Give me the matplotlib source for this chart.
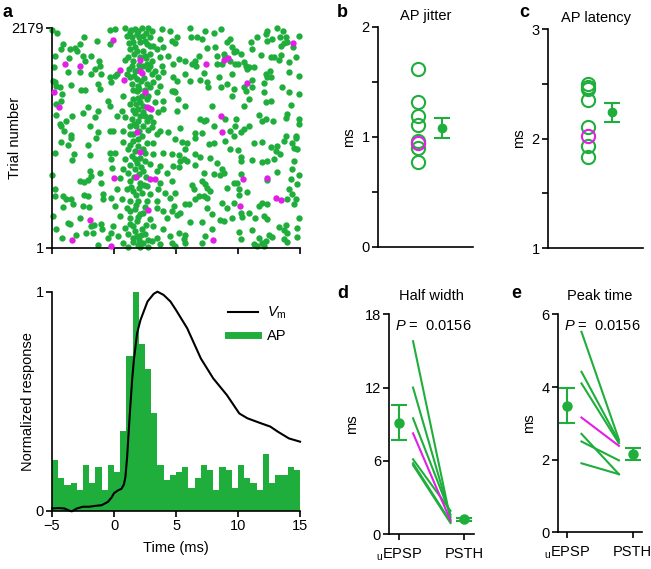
import numpy as np
import matplotlib
matplotlib.use("Agg")
import matplotlib.pyplot as plt
from matplotlib.lines import Line2D

plt.rcParams['font.family'] = ['Liberation Sans', 'DejaVu Sans']
plt.rcParams['mathtext.fontset'] = 'custom'
plt.rcParams['mathtext.rm'] = 'Liberation Sans'
plt.rcParams['mathtext.it'] = 'Liberation Sans:italic'
plt.rcParams['font.size'] = 10.5
plt.rcParams['axes.linewidth'] = 1.2
plt.rcParams['xtick.major.width'] = 1.2
plt.rcParams['ytick.major.width'] = 1.2
plt.rcParams['xtick.major.size'] = 4
plt.rcParams['ytick.major.size'] = 4

GREEN = '#1fae3c'
MAGENTA = '#e21fe6'

# ---- raster (time ms, trial number) ----
raster_green = [
    (-5.0, 2150), (-4.57, 2121), (-4.11, 2015), (-4.25, 1966), (-4.73, 1893), (-4.84, 1784), (-3.58, 1966),
    (-3.17, 1975), (-2.96, 1949), (-2.77, 2015), (-2.42, 2081), (-1.34, 2041), (-0.35, 2154), (-0.35, 2015),
    (-3.63, 1873), (-2.5, 1893), (-2.37, 1850), (-1.83, 1900), (-1.24, 1843), (-1.1, 1800), (-1.56, 1768),
    (-1.88, 1718), (-1.08, 1718), (-3.71, 1735), (-2.72, 1741), (-4.92, 1652), (-4.73, 1636), (-4.65, 1603),
    (-4.38, 1586), (-4.19, 1520), (-4.65, 1421), (-4.25, 1454), (-3.44, 1612), (-2.63, 1560), (-2.31, 1560),
    (-1.29, 1619), (-1.16, 1570), (-0.35, 1685), (-0.21, 1636), (-0.48, 1454), (-0.35, 1405), (-2.1, 1388),
    (-2.5, 1329), (-1.56, 1296), (-1.29, 1355), (-4.65, 1315), (-3.39, 1306), (-3.84, 1256), (-4.38, 1223),
    (-4.25, 1207), (-4.03, 1157), (-3.44, 1117), (-1.96, 1207), (-1.29, 1140), (-0.35, 1157),
    # band, upper half
    (0.08, 2164), (0.89, 2173), (1.29, 2130), (1.7, 2164), (2.23, 2175), (2.77, 2175), (3.04, 2147),
    (3.85, 2164), (4.52, 2147), (1.02, 2097), (1.43, 2081), (1.83, 2114), (2.37, 2097), (2.91, 2081),
    (3.71, 2064), (4.65, 2048), (1.56, 2032), (2.1, 2032), (2.64, 2015), (3.17, 1998), (1.29, 1966),
    (1.83, 1949), (2.37, 1949), (3.44, 1966), (3.98, 1982), (4.38, 1900), (1.16, 1883), (0.89, 1857),
    (1.56, 1850), (2.5, 1900), (2.91, 1916), (3.71, 1883), (2.64, 1817), (3.04, 1850), (1.43, 1800),
    (1.7, 1751), (2.37, 1800), (2.77, 1768), (3.31, 1751), (3.85, 1800), (4.79, 1817), (0.08, 1702),
    (1.02, 1718), (1.29, 1685), (0.22, 1718), (1.83, 1668), (3.04, 1718), (3.58, 1685), (3.98, 1735),
    (4.79, 1685), (1.43, 1619), (1.97, 1603), (2.64, 1619), (3.17, 1636), (3.71, 1603), (1.83, 1553),
    (2.23, 1504), (2.77, 1504), (3.44, 1537), (4.65, 1553), (0.76, 1504), (1.56, 1471), (2.1, 1437),
    (2.64, 1471), (3.31, 1437), (3.98, 1454), (1.97, 1371), (2.37, 1338), (3.58, 1338), (3.98, 1371),
    (0.62, 1355), (0.22, 1306), (0.89, 1289), (1.43, 1272), (1.97, 1256), (2.64, 1256), (3.17, 1240),
    (1.29, 1207), (2.37, 1207), (3.04, 1190), (3.71, 1157), (4.38, 1140), (-0.05, 1157), (0.76, 1157),
    (1.56, 1124), (2.23, 1108), (3.44, 1124),
    (1.9, 2140), (2.5, 2050), (1.7, 1990), (2.1, 1890), (2.0, 1810), (1.6, 1700), (2.4, 1680),
    (2.0, 1570), (1.9, 1480), (2.3, 1400), (1.7, 1330), (2.1, 1300), (1.8, 1200), (2.7, 1160),
    (1.4, 2150), (2.0, 2090), (2.6, 2120), (1.2, 2030), (2.9, 2000), (1.6, 1920), (2.6, 1880),
    (1.9, 1760), (2.9, 1800), (1.2, 1770), (2.2, 1650), (1.5, 1560), (2.5, 1560), (2.9, 1590),
    (1.3, 1420), (1.8, 1420), (2.8, 1380), (1.5, 1360), (2.5, 1300), (1.6, 1220), (2.9, 1290),
    (2.0, 1150), (1.3, 1120),
    # 5 to 10 ms, upper half
    (5.08, 2088), (4.9, 2022), (6.16, 2173), (6.24, 2081), (6.7, 2088), (7.1, 2064), (7.37, 2147),
    (8.04, 2121), (8.66, 2164), (9.38, 2064), (9.12, 2032), (9.52, 1989), (9.65, 1933), (7.5, 1975),
    (8.12, 1989), (5.27, 1867), (5.76, 1850), (6.29, 1817), (6.62, 1800), (6.83, 1893), (6.56, 1850),
    (8.31, 1900), (8.85, 1916), (8.93, 1883), (8.31, 1817), (8.71, 1817), (9.38, 1850), (9.79, 1817),
    (5.76, 1718), (5.08, 1652), (6.16, 1652), (6.97, 1659), (7.29, 1725), (7.5, 1636), (7.58, 1586),
    (8.44, 1692), (8.66, 1593), (9.12, 1619), (9.52, 1718), (9.65, 1570), (4.81, 1553), (4.95, 1537),
    (5.16, 1471), (9.52, 1504), (5.76, 1405), (5.08, 1355), (7.91, 1405), (6.97, 1272), (7.23, 1249),
    (7.45, 1263), (8.04, 1207), (8.98, 1272), (5.35, 1183), (6.56, 1131), (7.1, 1131), (9.38, 1157),
    (9.65, 1108), (9.79, 1207),
    # 10 to 15 ms, upper half
    (13.17, 2173), (13.66, 2147), (12.37, 2147), (12.23, 2114), (11.56, 2081), (11.02, 2032),
    (11.16, 1966), (9.81, 1949), (10.22, 1916), (11.83, 1909), (12.37, 2041), (12.77, 2064),
    (13.39, 2088), (13.85, 2081), (13.98, 2032), (13.71, 2022), (13.44, 1998), (14.46, 1982),
    (14.92, 2097), (12.69, 1890), (12.91, 1883), (13.31, 1857), (13.44, 1909), (14.12, 1833),
    (14.65, 1883), (10.0, 1817), (10.49, 1833), (10.62, 1800), (10.76, 1768), (10.89, 1784),
    (11.29, 1784), (12.23, 1718), (12.58, 1744), (12.37, 1685), (12.64, 1685), (14.12, 1735),
    (14.92, 1702), (11.16, 1659), (10.49, 1586), (10.62, 1553), (11.16, 1586), (12.1, 1626),
    (13.58, 1586), (14.12, 1537), (14.92, 1520), (10.89, 1471), (12.1, 1537), (12.23, 1437),
    (12.69, 1454), (14.25, 1414), (10.49, 1405), (9.81, 1272), (11.7, 1315), (11.97, 1256),
    (12.23, 1272), (12.85, 1256), (13.85, 1282), (13.98, 1322), (14.92, 1272), (14.92, 1223),
    (10.89, 1207), (10.49, 1174), (10.22, 1140), (13.85, 1108), (14.65, 1108),
    # -5 to 0 ms, lower half
    (-4.25, 1046), (-3.49, 1088), (-4.73, 933), (-3.71, 1013), (-3.23, 924), (-3.39, 867), (-2.1, 1013),
    (-1.42, 1088), (-1.96, 914), (-0.35, 940), (-0.21, 874), (-5.0, 716), (-4.78, 584), (-4.73, 511),
    (-4.11, 511), (-3.84, 478), (-3.49, 478), (-3.31, 428), (-4.11, 405), (-4.92, 313), (-2.77, 659),
    (-2.42, 650), (-2.1, 669), (-1.96, 758), (-1.83, 709), (-1.16, 735), (-1.02, 643), (-2.42, 518),
    (-2.1, 511), (-2.5, 412), (-2.04, 405), (-0.89, 528), (-0.89, 478), (-0.21, 495), (-3.71, 240),
    (-3.58, 230), (-2.77, 296), (-1.88, 214), (-1.61, 221), (-1.02, 230), (-0.97, 181), (-4.65, 188),
    (-4.19, 99), (-3.04, 122), (-2.23, 141), (-1.69, 148), (-0.48, 99), (-0.21, 148), (-1.29, 23),
    # band, lower half
    (0.76, 1046), (1.56, 1056), (1.97, 1072), (2.64, 1039), (3.17, 1032), (1.16, 973), (1.7, 957),
    (2.37, 973), (1.43, 907), (2.1, 891), (3.17, 924), (3.98, 940), (4.65, 924), (0.08, 940),
    (0.89, 881), (1.83, 841), (2.5, 858), (2.91, 825), (3.71, 808), (4.79, 808), (-0.19, 792),
    (0.76, 775), (1.16, 742), (1.7, 775), (2.37, 758), (3.44, 758), (4.25, 742), (0.49, 692),
    (1.29, 660), (2.1, 643), (2.64, 610), (3.71, 643), (4.65, 660), (0.22, 577), (1.02, 577),
    (1.56, 561), (2.23, 544), (2.91, 528), (3.58, 577), (4.12, 544), (0.62, 478), (1.29, 462),
    (1.97, 462), (2.64, 462), (3.44, 462), (4.52, 495), (0.08, 412), (1.02, 396), (1.7, 379),
    (2.37, 346), (3.44, 396), (3.98, 363), (4.65, 363), (0.49, 313), (1.29, 297), (1.83, 264),
    (2.91, 280), (4.25, 297), (-0.05, 214), (0.89, 197), (1.56, 214), (2.23, 181), (3.17, 214),
    (3.98, 181), (0.35, 115), (1.16, 132), (1.83, 115), (2.5, 132), (3.44, 99), (4.52, 115),
    (0.76, 49), (1.56, 56), (2.37, 49), (3.04, 66), (3.71, 33), (4.65, 49), (1.16, 10), (2.1, 10),
    (2.77, 10),
    (1.9, 1010), (2.2, 800), (1.6, 700), (2.0, 590), (1.8, 420), (2.1, 330), (1.7, 160), (2.0, 80),
    (1.3, 1020), (2.5, 940), (1.7, 880), (1.3, 820), (2.0, 730), (2.6, 700), (1.4, 600), (2.4, 620),
    (1.8, 520), (2.5, 400), (1.3, 360), (1.9, 300), (2.6, 220), (1.3, 230), (2.2, 120), (1.5, 100),
    (2.7, 80), (1.9, 30),
    # 5 to 10 ms, lower half
    (4.95, 1072), (5.49, 1046), (5.89, 1032), (6.56, 1088), (7.64, 1022), (8.04, 1032), (8.98, 1056),
    (9.38, 973), (5.76, 973), (5.22, 914), (5.35, 858), (5.62, 874), (5.89, 858), (6.56, 924),
    (6.97, 900), (6.56, 815), (5.27, 801), (7.77, 891), (8.31, 841), (8.71, 775), (8.85, 742),
    (8.58, 716), (7.23, 735), (8.04, 726), (6.29, 617), (6.43, 577), (7.37, 627), (7.5, 594),
    (7.1, 660), (6.83, 511), (6.56, 485), (7.23, 511), (9.65, 643), (9.12, 594), (7.77, 561),
    (7.5, 495), (4.95, 544), (4.81, 412), (5.76, 428), (6.02, 428), (5.35, 339), (5.08, 320),
    (7.5, 396), (7.91, 330), (8.71, 445), (9.12, 396), (9.65, 445), (6.16, 254), (7.1, 254),
    (8.58, 273), (8.85, 264), (9.52, 297), (7.91, 181), (5.22, 148), (5.76, 122), (5.62, 82),
    (7.37, 115), (4.95, 16), (5.76, 49), (7.1, 49),
    # 10 to 15 ms, lower half
    (11.29, 1039), (11.97, 1046), (12.64, 999), (13.17, 1006), (13.04, 957), (13.71, 1056),
    (14.38, 1039), (14.65, 1088), (14.79, 973), (14.52, 990), (10.0, 966), (10.22, 900), (10.22, 858),
    (11.16, 867), (11.97, 848), (12.37, 858), (12.91, 881), (13.39, 924), (14.52, 858), (14.38, 775),
    (13.17, 749), (12.37, 669), (10.22, 726), (9.95, 643), (10.08, 584), (10.08, 518), (10.76, 551),
    (14.25, 683), (14.92, 716), (14.79, 627), (14.12, 577), (14.38, 528), (14.65, 478), (14.52, 428),
    (13.98, 478), (11.7, 412), (11.97, 445), (12.37, 428), (10.27, 346), (10.35, 306), (10.89, 339),
    (11.35, 297), (12.1, 313), (12.37, 280), (14.92, 297), (10.08, 155), (11.16, 174), (11.7, 99),
    (12.5, 122), (12.77, 108), (13.31, 207), (13.85, 221), (13.71, 174), (13.98, 148), (14.79, 197),
    (13.71, 82), (13.98, 56), (14.79, 108), (11.29, 33), (11.97, 49), (12.1, 16), (11.56, 16),
    (10.22, 82), (12.23, 66),
]
raster_magenta = [
    (-3.98, 1816), (-2.71, 1796), (-4.87, 1542), (-4.4, 1394), (-0.07, 2054), (0.52, 1763), (0.79, 1658),
    (2.08, 1862), (2.13, 1750), (2.27, 1724), (2.46, 1542), (2.62, 1394), (3.02, 1377), (1.86, 1146),
    (7.44, 1816), (8.86, 1862), (9.21, 1882), (8.59, 1301), (8.67, 1146), (14.43, 2030), (10.69, 1631),
    (-1.9, 278), (-3.38, 80), (-0.22, 18), (0.03, 691), (1.81, 700), (2.94, 684), (3.29, 684),
    (2.13, 942), (2.75, 371), (7.97, 80), (10.4, 684), (12.36, 690), (13.03, 496), (13.44, 470),
    (10.13, 414),
]

# ---- PSTH and Vm ----
bin_left = np.arange(-5, 15, 0.5)
ap_hist = [0.231, 0.151, 0.116, 0.128, 0.093, 0.208, 0.128, 0.198, 0.093, 0.208,
           0.175, 0.364, 0.706, 1.0, 0.763, 0.647, 0.444, 0.208, 0.139, 0.163,
           0.175, 0.198, 0.102, 0.151, 0.208, 0.186, 0.093, 0.198, 0.186, 0.102,
           0.208, 0.151, 0.128, 0.093, 0.257, 0.128, 0.163, 0.163, 0.198, 0.186]
vm_t = [-5, -4.5, -4.0, -3.6, -3.4, -3.0, -2.5, -2.0, -1.5, -1.0, -0.5, -0.2, 0.0, 0.3, 0.6, 0.8,
        0.92, 1.06, 1.19, 1.33, 1.46, 1.6, 1.86, 2.13, 2.7, 3.2, 3.5, 4.0, 4.55, 5.0, 5.9, 7.0,
        8.0, 9.1, 10.1, 10.75, 11.8, 12.6, 13.2, 14.1, 15.0]
vm_v = [0.010, 0.012, 0.010, 0.0, -0.003, 0.01, 0.018, 0.018, 0.022, 0.025, 0.04, 0.06, 0.08,
        0.092, 0.1, 0.12, 0.155, 0.247, 0.368, 0.49, 0.597, 0.688, 0.81, 0.87, 0.955, 0.99, 1.0,
        0.985, 0.955, 0.916, 0.833, 0.695, 0.604, 0.528, 0.444, 0.422, 0.4, 0.384, 0.361, 0.33, 0.315]

# ---- b, c ----
jitter_green = [1.62, 1.32, 1.19, 1.11, 0.96, 0.90, 0.77]
jitter_magenta = [0.94]
jitter_mean, jitter_err = 1.08, 0.087
latency_green = [2.495, 2.47, 2.45, 2.35, 2.11, 1.93, 1.83]
latency_magenta = [2.02]
latency_mean, latency_err = 2.24, 0.085

# ---- d, e ----
group_labels = [r'$_{\rm u}$EPSP', 'PSTH']
halfwidth_epsp = [15.8, 12.0, 9.48, 6.12, 5.8, 5.65]
halfwidth_psth = [1.2, 1.4, 1.6, 1.9, 1.0, 0.9]
halfwidth_mag = [8.25, 1.1]
halfwidth_mean = [9.13, 1.2]
halfwidth_err = [1.43, 0.14]
peak_epsp = [5.52, 4.42, 4.1, 2.71, 2.5, 1.9]
peak_psth = [2.55, 2.5, 2.45, 1.6, 1.98, 1.6]
peak_mag = [3.16, 2.38]
peak_mean = [3.48, 2.16]
peak_err = [0.48, 0.17]
p_value = '0.0156'

fig = plt.figure(figsize=(6.51, 5.69), dpi=100)


def style(ax):
    for s in ['top', 'right']:
        ax.spines[s].set_visible(False)
    ax.tick_params(direction='out', pad=2)


# a, raster
ax = fig.add_axes([0.0799, 0.565, 0.381, 0.3866])
gt, gn = zip(*raster_green)
mt, mn = zip(*raster_magenta)
ax.scatter(gt, gn, s=21, color=GREEN, linewidths=0, clip_on=False, zorder=2)
ax.scatter(mt, mn, s=21, color=MAGENTA, linewidths=0, clip_on=False, zorder=3)
ax.set_xlim(-5, 15)
ax.set_ylim(1, 2179)
ax.set_xticks([-5, 0, 5, 10, 15])
ax.set_xticklabels([])
ax.set_yticks([1, 2179])
ax.set_ylabel('Trial number', labelpad=-8)
style(ax)

# a, PSTH
ax = fig.add_axes([0.0799, 0.1025, 0.381, 0.3849])
ax.bar(bin_left, ap_hist, width=0.5, align='edge', color=GREEN, linewidth=0)
ax.plot(vm_t, vm_v, color='black', lw=1.5, clip_on=False)
ax.set_xlim(-5, 15)
ax.set_ylim(0, 1)
ax.set_xticks([-5, 0, 5, 10, 15])
ax.set_xticklabels(['\u22125', '0', '5', '10', '15'])
ax.set_yticks([0, 1])
ax.set_xlabel('Time (ms)', labelpad=6)
ax.set_ylabel('Normalized response', labelpad=0)
handles = [Line2D([], [], color='black', lw=1.5), Line2D([], [], color=GREEN, lw=5)]
ax.legend(handles, [r'$V_{\rm m}$', 'AP'], loc='upper right', bbox_to_anchor=(1.0, 1.0),
          frameon=False, handlelength=2.1, handletextpad=0.6, labelspacing=0.55, fontsize=10.5)
style(ax)


def scatter_panel(rect, green, magenta, mean, err, ylim, ticks, labels, title):
    ax = fig.add_axes(rect)
    ax.plot([0.42] * len(green), green, 'o', mfc='none', mec=GREEN, ms=9.5, mew=1.5, clip_on=False)
    ax.plot([0.42] * len(magenta), magenta, 'o', mfc='none', mec=MAGENTA, ms=9.5, mew=1.5, clip_on=False)
    ax.errorbar([0.674], [mean], yerr=[err], fmt='o', color=GREEN, ms=6, lw=1.5, capsize=6, capthick=1.5)
    ax.set_xlim(0, 1)
    ax.set_ylim(*ylim)
    ax.set_xticks([])
    ax.set_yticks(ticks)
    ax.set_yticklabels(labels)
    ax.set_ylabel('ms', labelpad=4)
    ax.set_title(title, fontsize=10.5, pad=5)
    style(ax)
    return ax


scatter_panel([0.5806, 0.5664, 0.146, 0.3866], jitter_green, jitter_magenta, jitter_mean, jitter_err,
              (0, 2), [0, 0.5, 1, 1.5, 2], ['0', '', '1', '', '2'], 'AP jitter')
scatter_panel([0.8418, 0.5636, 0.146, 0.3854], latency_green, latency_magenta, latency_mean, latency_err,
              (1, 3), [1, 1.5, 2, 2.5, 3], ['1', '', '2', '', '3'], 'AP latency')


def paired_panel(rect, epsp, psth, mag, mean, err, ylim, ticks, title):
    ax = fig.add_axes(rect)
    for a, b in zip(epsp, psth):
        ax.plot([0.215, 0.79], [a, b], color=GREEN, lw=1.5)
    ax.plot([0.215, 0.79], mag, color=MAGENTA, lw=1.5)
    ax.errorbar([0, 1], mean, yerr=err, fmt='o', color=GREEN, ms=6.5, lw=1.5, capsize=6, capthick=1.5,
                ls='none')
    ax.set_xlim(-0.15, 1.15)
    ax.set_ylim(*ylim)
    ax.set_xticks([0, 1])
    ax.set_xticklabels(group_labels)
    ax.set_yticks(ticks)
    ax.set_ylabel('ms', labelpad=4)
    ax.set_title(title, fontsize=10.5, pad=10)
    ax.text(0.07, 0.93, r'$P$ =  ' + p_value, transform=ax.transAxes, fontsize=10.5)
    style(ax)
    ax.tick_params(axis='x', pad=5)
    return ax


paired_panel([0.598, 0.0615, 0.130, 0.386], halfwidth_epsp, halfwidth_psth, halfwidth_mag,
             halfwidth_mean, halfwidth_err, (0, 18), [0, 6, 12, 18], 'Half width')
paired_panel([0.8567, 0.0645, 0.130, 0.383], peak_epsp, peak_psth, peak_mag,
             peak_mean, peak_err, (0, 6), [0, 2, 4, 6], 'Peak time')

for letter, x, y in [('a', 0.004, 0.978), ('b', 0.518, 0.978), ('c', 0.797, 0.978),
                     ('d', 0.518, 0.485), ('e', 0.786, 0.485)]:
    fig.text(x, y, letter, fontsize=13, fontweight='bold', va='center')

fig.savefig('out.png', dpi=100)
